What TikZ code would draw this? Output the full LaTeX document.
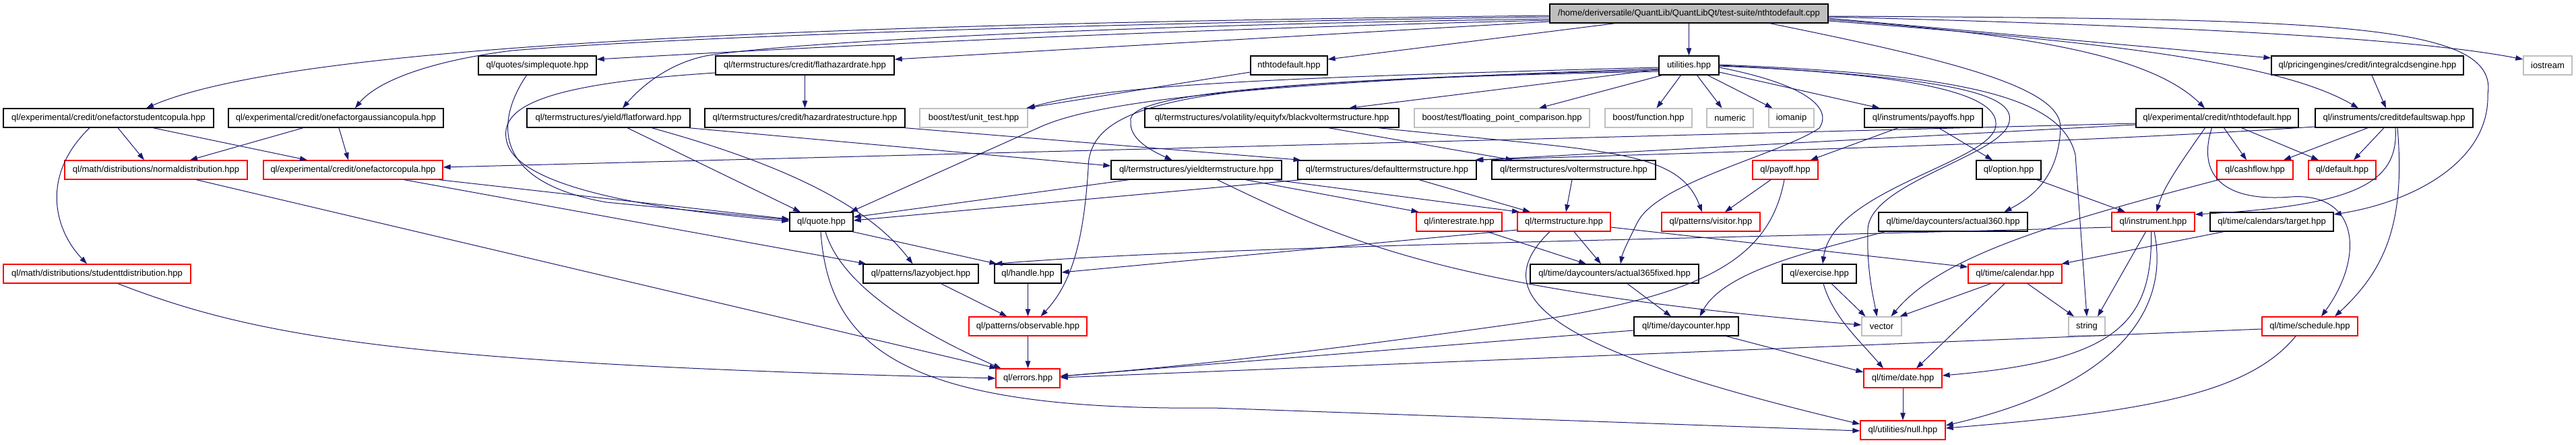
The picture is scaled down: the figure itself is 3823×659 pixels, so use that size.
\documentclass[tikz,border=0pt]{standalone}
\usepackage{fontspec}
\setmainfont{Liberation Sans}
\usetikzlibrary{arrows.meta}
\definecolor{edgec}{RGB}{25,25,112}
\definecolor{qred}{RGB}{255,0,0}
\definecolor{qgrey}{RGB}{191,191,191}
\tikzset{
  nb/.style={draw=black, line width=1.3pt, minimum height=28pt, inner sep=0pt, fill=white, font=\fontsize{13pt}{15pt}\selectfont},
  rb/.style={nb, draw=qred},
  gb/.style={nb, draw=qgrey},
  dep/.style={draw=edgec, line width=1pt, -{Triangle[length=11pt,width=7.5pt]}}
}
\begin{document}
\begin{tikzpicture}[x=1pt,y=-1pt]
\fill[white] (0,0) rectangle (3823,659);
\useasboundingbox (0,0) rectangle (3823,659);
% row 0
\node[nb, fill=qgrey, minimum width=413pt] (main) at (2506.5,20) {/home/deriversatile/QuantLib/QuantLibQt/test-suite/nthtodefault.cpp};
% row 1
\node[nb, minimum width=175pt] (simplequote) at (797.5,97) {ql/quotes/simplequote.hpp};
\node[nb, minimum width=265pt] (flathazard) at (1194.5,97) {ql/termstructures/credit/flathazardrate.hpp};
\node[nb, minimum width=114pt] (nthhpp) at (1913,97) {nthtodefault.hpp};
\node[nb, minimum width=89pt] (utilities) at (2506.5,97) {utilities.hpp};
\node[nb, minimum width=285pt] (integralcds) at (3513.5,97) {ql/pricingengines/credit/integralcdsengine.hpp};
\node[gb, minimum width=72pt] (iostream) at (3781,97) {iostream};
% row 2
\node[nb, minimum width=312pt] (studentcop) at (161,175) {ql/experimental/credit/onefactorstudentcopula.hpp};
\node[nb, minimum width=319pt] (gausscop) at (498.5,175) {ql/experimental/credit/onefactorgaussiancopula.hpp};
\node[nb, minimum width=242pt] (flatforward) at (903,175) {ql/termstructures/yield/flatforward.hpp};
\node[nb, minimum width=297pt] (hazardrate) at (1194.5,175) {ql/termstructures/credit/hazardratestructure.hpp};
\node[gb, minimum width=160pt] (unittest) at (1445,175) {boost/test/unit\_test.hpp};
\node[nb, minimum width=377pt] (blackvol) at (1887.5,175) {ql/termstructures/volatility/equityfx/blackvoltermstructure.hpp};
\node[gb, minimum width=260pt] (floating) at (2229,175) {boost/test/floating\_point\_comparison.hpp};
\node[gb, minimum width=129pt] (function) at (2446.5,175) {boost/function.hpp};
\node[gb, minimum width=69pt] (numeric) at (2567.5,175) {numeric};
\node[gb, minimum width=67pt] (iomanip) at (2658.5,175) {iomanip};
\node[nb, minimum width=175pt] (payoffs) at (2854.5,175) {ql/instruments/payoffs.hpp};
\node[nb, minimum width=241pt] (exnth) at (3290.5,175) {ql/experimental/credit/nthtodefault.hpp};
\node[nb, minimum width=234pt] (cds) at (3553,175) {ql/instruments/creditdefaultswap.hpp};
% row 3
\node[rb, minimum width=271pt] (normal) at (231.5,252) {ql/math/distributions/normaldistribution.hpp};
\node[rb, minimum width=266pt] (ofcopula) at (524,252) {ql/experimental/credit/onefactorcopula.hpp};
\node[nb, minimum width=253pt] (yieldts) at (1775.5,252) {ql/termstructures/yieldtermstructure.hpp};
\node[nb, minimum width=265pt] (defaultts) at (2058.5,252) {ql/termstructures/defaulttermstructure.hpp};
\node[nb, minimum width=243pt] (volts) at (2335.5,252) {ql/termstructures/voltermstructure.hpp};
\node[rb, minimum width=97pt] (payoff) at (2649.5,252) {ql/payoff.hpp};
\node[nb, minimum width=96pt] (option) at (2981,252) {ql/option.hpp};
\node[rb, minimum width=113pt] (cashflow) at (3346.5,252) {ql/cashflow.hpp};
\node[rb, minimum width=100pt] (default) at (3476,252) {ql/default.hpp};
% row 4
\node[nb, minimum width=94pt] (quote) at (1219,329) {ql/quote.hpp};
\node[rb, minimum width=127pt] (interest) at (2165.5,329) {ql/interestrate.hpp};
\node[rb, minimum width=138pt] (termstr) at (2321,329) {ql/termstructure.hpp};
\node[rb, minimum width=146pt] (visitor) at (2539,329) {ql/patterns/visitor.hpp};
\node[nb, minimum width=221pt] (act360) at (2898.5,329) {ql/time/daycounters/actual360.hpp};
\node[rb, minimum width=123pt] (instrument) at (3195.5,329) {ql/instrument.hpp};
\node[nb, minimum width=183pt] (target) at (3371.5,329) {ql/time/calendars/target.hpp};
% row 5
\node[rb, minimum width=278pt] (studentt) at (144,406) {ql/math/distributions/studenttdistribution.hpp};
\node[nb, minimum width=171pt] (lazy) at (1366.5,406) {ql/patterns/lazyobject.hpp};
\node[nb, minimum width=99pt] (handle) at (1525.5,406) {ql/handle.hpp};
\node[nb, minimum width=250pt] (act365) at (2396,406) {ql/time/daycounters/actual365fixed.hpp};
\node[nb, minimum width=110pt] (exercise) at (2700,406) {ql/exercise.hpp};
\node[rb, minimum width=139pt] (calendar) at (2990.5,406) {ql/time/calendar.hpp};
% row 6
\node[rb, minimum width=175pt] (observable) at (1525.5,484) {ql/patterns/observable.hpp};
\node[nb, minimum width=155pt] (daycounter) at (2502.5,484) {ql/time/daycounter.hpp};
\node[gb, minimum width=59pt] (vector) at (2792.5,484) {vector};
\node[gb, minimum width=54pt] (string) at (3097,484) {string};
\node[rb, minimum width=142pt] (schedule) at (3428,484) {ql/time/schedule.hpp};
% row 7
\node[rb, minimum width=95pt] (errors) at (1525.5,561) {ql/errors.hpp};
\node[rb, minimum width=116pt] (date) at (2824,561) {ql/time/date.hpp};
% row 8
\node[rb, minimum width=126pt] (null) at (2824,638) {ql/utilities/null.hpp};

% ---- edges from main
\draw[dep] (main) -- (utilities);
\draw[dep] ([xshift=-109.5pt]main.south) -- ([yshift=9pt]nthhpp.east);
\draw[dep] ([yshift=-10pt]main.west) .. controls (1700,45) and (1200,70) .. ([yshift=9pt]simplequote.east);
\draw[dep] ([yshift=-12pt]main.west) -- ([yshift=9pt]flathazard.east);
\draw[dep] ([yshift=-3pt]main.west) .. controls (1300,35) and (450,60) .. ([xshift=56pt]studentcop.north);
\draw[dep] ([yshift=-5pt]main.west) .. controls (1600,35) and (1000,55) .. (760,75) .. controls (640,90) and (560,120) .. ([xshift=28.5pt]gausscop.north);
\draw[dep] ([yshift=-8pt]main.west) .. controls (1600,38) and (1150,65) .. (1047,83) .. controls (990,95) and (950,130) .. ([xshift=21pt]flatforward.north);
\draw[dep] ([yshift=-5pt]main.east) .. controls (3300,40) and (3600,60) .. ([yshift=9pt]iostream.west);
\draw[dep] ([yshift=-7pt]main.east) -- ([yshift=11pt]integralcds.west);
\draw[dep] ([yshift=-9pt]main.east) .. controls (3000,50) and (3190,80) .. ([xshift=-18.5pt]exnth.north);
\draw[dep] ([yshift=-11pt]main.east) .. controls (3100,60) and (3380,90) .. ([xshift=-53pt]cds.north);
\draw[dep] ([yshift=-4pt]main.east) .. controls (3450,28) and (3710,32) .. (3692,140) .. controls (3695,240) and (3580,300) .. ([yshift=11pt]target.east);
\draw[dep] ([xshift=120pt]main.south) .. controls (2900,90) and (3060,130) .. (3058,190) .. controls (3055,260) and (3020,290) .. ([xshift=76pt]act360.north);

% ---- utilities
\draw[dep] ([yshift=-3pt]utilities.west) .. controls (1900,115) and (1650,125) .. ([xshift=80pt]unittest.north);
\draw[dep] ([yshift=-10pt]nthhpp.west) -- ([xshift=78pt]unittest.north);
\draw[dep] ([yshift=-5pt]utilities.west) .. controls (1750,125) and (1600,162) .. (1540,190) -- ([xshift=43pt]quote.north);
\draw[dep] ([yshift=-7pt]utilities.west) .. controls (1900,118) and (1670,140) .. (1678,180) .. controls (1676,205) and (1705,222) .. ([xshift=-36pt]yieldts.north);
\draw[dep] ([yshift=-9pt]utilities.west) .. controls (1800,120) and (1615,140) .. (1615,250) .. controls (1608,360) and (1590,420) .. ([xshift=19pt]observable.north);
\draw[dep] ([yshift=-6pt]utilities.west) -- ([xshift=114.5pt]blackvol.north);
\draw[dep] ([xshift=-40pt]utilities.south) -- ([xshift=55pt]floating.north);
\draw[dep] ([xshift=-12pt]utilities.south) -- ([xshift=12pt]function.north);
\draw[dep] ([xshift=12pt]utilities.south) -- ([xshift=-12pt]numeric.north);
\draw[dep] ([xshift=28pt]utilities.south) -- ([xshift=-28pt]iomanip.north);
\draw[dep] ([yshift=-10pt]utilities.east) -- ([xshift=-65pt]payoffs.north);
\draw[dep] ([yshift=-3pt]utilities.east) .. controls (2680,125) and (2720,160) .. (2700,190) .. controls (2640,230) and (2460,270) .. (2430,330) .. controls (2415,360) and (2408,375) .. ([xshift=9pt]act365.north);
\draw[dep] ([yshift=1pt]utilities.east) .. controls (2900,110) and (3060,140) .. (3080,230) -- (string.north);
\draw[dep] ([yshift=-1pt]utilities.east) .. controls (2850,110) and (2965,140) .. (2962,185) .. controls (2960,240) and (2720,280) .. ([xshift=5pt]exercise.north);
\draw[dep] (utilities.east) .. controls (2900,115) and (2990,140) .. (2982,180) .. controls (2975,230) and (2775,270) .. (2772,340) .. controls (2770,400) and (2780,440) .. ([xshift=-7pt]vector.north);

% ---- row 1 others
\draw[dep] ([xshift=-16pt]simplequote.south) .. controls (735,180) and (730,270) .. (900,300) -- ([yshift=3pt]quote.west);
\draw[dep] ([yshift=-11pt]flathazard.west) .. controls (800,125) and (740,160) .. (752,210) .. controls (765,265) and (900,305) .. ([yshift=1pt]quote.west);
\draw[dep] (flathazard) -- (hazardrate);
\draw[dep] ([xshift=6.5pt]integralcds.south) -- ([xshift=-12pt]cds.north);

% ---- row 2
\draw[dep] ([xshift=28pt]flatforward.south) -- ([xshift=-31pt]quote.north);
\draw[dep] ([xshift=64pt]flatforward.south) .. controls (1150,240) and (1285,300) .. ([xshift=-12pt]lazy.north);
\draw[dep] ([xshift=119pt]flatforward.south) -- ([yshift=6pt]yieldts.west);
\draw[dep] ([xshift=148pt]hazardrate.south) -- ([xshift=-128pt]defaultts.north);
\draw[dep] ([xshift=14pt]studentcop.south) -- ([xshift=-17.5pt]normal.north);
\draw[dep] ([xshift=66pt]studentcop.south) -- ([xshift=-68pt]ofcopula.north);
\draw[dep] ([xshift=-28pt]studentcop.south) .. controls (60,260) and (80,340) .. ([xshift=-15pt]studentt.north);
\draw[dep] ([xshift=-48.5pt]gausscop.south) -- ([xshift=50.5pt]normal.north);
\draw[dep] ([xshift=4.5pt]gausscop.south) -- ([xshift=-7pt]ofcopula.north);
\draw[dep] ([xshift=84pt]blackvol.south) -- ([xshift=-90pt]volts.north);
\draw[dep] ([xshift=158pt]blackvol.south) .. controls (2380,225) and (2490,220) .. ([xshift=-13pt]visitor.north);
\draw[dep] ([xshift=-37.5pt]payoffs.south) -- ([xshift=37.5pt]payoff.north);
\draw[dep] ([xshift=22.5pt]payoffs.south) -- ([xshift=-24pt]option.north);
\draw[dep] ([yshift=-8pt]exnth.west) -- ([yshift=4pt]ofcopula.east);
\draw[dep] ([yshift=-10pt]exnth.west) -- ([xshift=132pt]defaultts.north);
\draw[dep] ([xshift=-18pt]exnth.south) .. controls (3230,250) and (3210,280) .. ([xshift=5pt]instrument.north);
\draw[dep] ([xshift=10pt]exnth.south) -- ([xshift=-12.5pt]cashflow.north);
\draw[dep] ([xshift=36pt]exnth.south) -- ([xshift=-35pt]default.north);
\draw[dep] ([xshift=-8pt]exnth.south) .. controls (3260,260) and (3300,300) .. (3400,292) .. controls (3500,285) and (3510,380) .. ([xshift=17pt]schedule.north);
\draw[dep] ([xshift=-39pt]cds.south) -- ([xshift=42.5pt]cashflow.north);
\draw[dep] ([xshift=-15pt]cds.south) -- ([xshift=17pt]default.north);
\draw[dep] ([xshift=2pt]cds.south) .. controls (3560,270) and (3500,305) .. ([yshift=11pt]instrument.east);
\draw[dep] ([xshift=5pt]cds.south) .. controls (3570,330) and (3540,400) .. ([xshift=37pt]schedule.north);
\draw[dep] ([yshift=-13pt]cds.west) .. controls (3100,210) and (2800,218) .. ([xshift=130pt]defaultts.north);

% ---- row 3
\draw[dep] ([xshift=60pt]normal.south) -- ([xshift=-46pt]errors.north);
\draw[dep] ([xshift=128pt]ofcopula.south) -- ([yshift=4pt]quote.west);
\draw[dep] ([xshift=76pt]ofcopula.south) -- ([xshift=-81pt]lazy.north);
\draw[dep] ([xshift=-100pt]yieldts.south) -- ([yshift=7pt]quote.east);
\draw[dep] ([xshift=73pt]yieldts.south) -- ([xshift=-60pt]interest.north);
\draw[dep] ([xshift=115pt]yieldts.south) -- ([xshift=-66pt]termstr.north);
\draw[dep] ([xshift=31pt]yieldts.south) .. controls (2000,360) and (2150,430) .. ([yshift=2pt]vector.west);
\draw[dep] ([xshift=47.5pt]defaultts.south) -- ([xshift=-50pt]termstr.north);
\draw[dep] ([xshift=-128pt]defaultts.south) -- ([yshift=2pt]quote.east);
\draw[dep] ([xshift=-2.5pt]volts.south) -- ([xshift=3pt]termstr.north);
\draw[dep] ([xshift=-21.5pt]payoff.south) -- ([xshift=21pt]visitor.north);
\draw[dep] ([xshift=-1.5pt]payoff.south) .. controls (2625,390) and (2520,440) .. (2250,480) .. controls (2000,515) and (1800,540) .. ([yshift=3pt]errors.east);
\draw[dep] ([xshift=42pt]option.south) -- ([xshift=-41.5pt]instrument.north);
\draw[dep] ([xshift=-54pt]cashflow.south) .. controls (3050,330) and (2880,380) .. ([xshift=14pt]vector.north);

% ---- row 4
\draw[dep] ([xshift=-1pt]quote.south) .. controls (1230,510) and (1330,610) .. (1800,605) -- ([yshift=-1pt]null.west);
\draw[dep] ([xshift=6pt]quote.south) .. controls (1250,430) and (1380,500) .. ([xshift=-40pt]errors.north);
\draw[dep] ([xshift=46pt]quote.south) -- ([xshift=-46pt]handle.north);
\draw[dep] ([xshift=41.5pt]interest.south) -- ([xshift=-42pt]act365.north);
\draw[dep] ([xshift=15pt]termstr.south) -- ([xshift=-20pt]act365.north);
\draw[dep] ([yshift=-12pt]termstr.west) -- ([yshift=2pt]handle.east);
\draw[dep] ([yshift=-8pt]termstr.east) -- ([yshift=10pt]calendar.west);
\draw[dep] ([xshift=-21pt]termstr.south) .. controls (2200,440) and (2300,520) .. ([yshift=9pt]null.west);
\draw[dep] ([xshift=-101pt]act360.south) .. controls (2700,370) and (2560,400) .. ([xshift=20pt]daycounter.north);
\draw[dep] ([yshift=-8pt]instrument.west) .. controls (2500,355) and (1800,365) .. ([xshift=-49pt]handle.north);
\draw[dep] ([xshift=-11pt]instrument.south) -- ([xshift=16pt]string.north);
\draw[dep] ([xshift=-3pt]instrument.south) .. controls (3195,480) and (3140,535) .. ([yshift=4pt]date.east);
\draw[dep] ([xshift=1.5pt]instrument.south) .. controls (3225,480) and (3110,580) .. ([yshift=7pt]null.east);
\draw[dep] ([xshift=-71.5pt]target.south) -- ([xshift=69pt]calendar.north);

% ---- row 5
\draw[dep] ([xshift=31pt]studentt.south) .. controls (380,500) and (600,540) .. (errors.west);
\draw[dep] ([xshift=30pt]lazy.south) -- ([xshift=-31pt]observable.north);
\draw[dep] (handle) -- (observable);
\draw[dep] ([xshift=19pt]act365.south) -- ([xshift=-22.5pt]daycounter.north);
\draw[dep] ([xshift=18pt]exercise.south) -- ([xshift=-24pt]vector.north);
\draw[dep] ([xshift=6pt]exercise.south) .. controls (2720,470) and (2760,505) .. ([xshift=-29pt]date.north);
\draw[dep] ([xshift=-36pt]calendar.south) -- ([xshift=27pt]vector.north);
\draw[dep] ([xshift=-15.5pt]calendar.south) -- ([xshift=20pt]date.north);
\draw[dep] ([xshift=18.5pt]calendar.south) -- ([xshift=-19pt]string.north);

% ---- row 6
\draw[dep] (observable) -- (errors);
\draw[dep] ([yshift=-6pt]daycounter.west) -- ([yshift=3pt]errors.east);
\draw[dep] ([xshift=59.5pt]daycounter.south) -- ([yshift=9pt]date.west);
\draw[dep] ([yshift=-4pt]schedule.west) -- ([yshift=1pt]errors.east);
\draw[dep] ([xshift=-21pt]schedule.south) .. controls (3340,580) and (3200,610) .. ([yshift=3pt]null.east);

% ---- row 7
\draw[dep] (date) -- (null);
\end{tikzpicture}
\end{document}
